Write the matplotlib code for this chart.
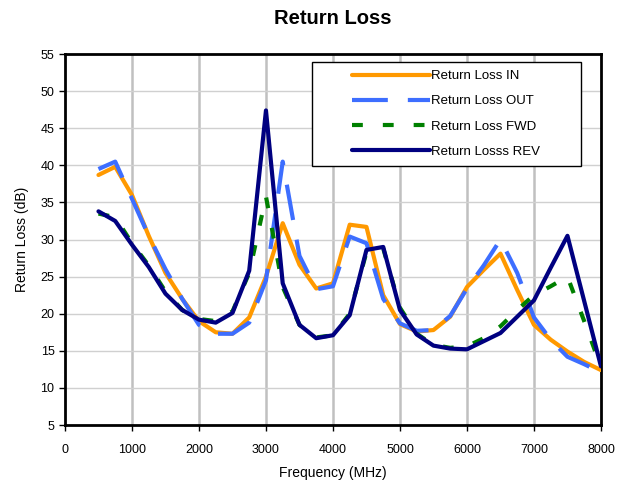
import numpy as np
import matplotlib
matplotlib.use("Agg")
import matplotlib.pyplot as plt
from matplotlib.patches import Rectangle

plt.rcParams['font.family'] = ['Liberation Sans', 'DejaVu Sans']

# frequency points (MHz)
freq = list(range(500, 8001, 250))

rl_in = [38.7, 39.8, 36.0, 30.5, 25.5, 22.0, 19.0, 17.5, 17.3, 19.5, 25.0, 32.2,
         26.6, 23.4, 24.1, 32.0, 31.7, 22.5, 18.6, 17.6, 17.8, 19.6, 23.6, 25.9,
         28.1, 23.2, 18.5, 16.5, 14.9, 13.5, 12.4]
rl_out = [39.5, 40.5, 35.5, 30.5, 26.0, 22.0, 18.5, 17.3, 17.3, 18.8, 24.5, 40.5,
          27.8, 23.3, 23.7, 30.4, 29.5, 22.0, 18.7, 17.7, 17.8, 19.7, 23.4, 26.5,
          30.0, 25.5, 19.5, 16.5, 14.2, 13.2, 12.1]
rl_fwd = [33.5, 33.0, 29.5, 26.5, 23.0, 20.5, 19.3, 19.0, 20.3, 25.5, 35.8, 23.6,
          18.5, 16.8, 17.1, 20.0, 28.3, 28.8, 20.8, 17.3, 15.8, 15.4, 15.6, 16.7,
          18.3, 20.5, 22.5, 23.7, 25.0, 19.0, 12.8]
rl_rev = [33.8, 32.5, 29.3, 26.3, 22.7, 20.5, 19.2, 18.8, 20.1, 25.8, 47.4, 24.1,
          18.5, 16.7, 17.1, 19.8, 28.6, 29.0, 20.5, 17.2, 15.7, 15.3, 15.2, 16.3,
          17.4, 19.6, 21.8, 26.2, 30.5, 21.7, 12.9]

fig = plt.figure(figsize=(6.17, 4.87), dpi=100)
ax = fig.add_axes([0.1053, 0.1273, 0.8687, 0.7617])

ax.plot(freq, rl_in, color='#FF9900', lw=3, solid_capstyle='round', label='Return Loss IN', zorder=3)
ax.plot(freq, rl_out, color='#3D6EFF', lw=3, dashes=(8.6, 4.8), label='Return Loss OUT', zorder=4)
ax.plot(freq, rl_fwd, color='#008000', lw=3, dashes=(2.6, 4.8), label='Return Loss FWD', zorder=5)
ax.plot(freq, rl_rev, color='#000080', lw=3, solid_capstyle='round', label='Return Losss REV', zorder=6)

ax.set_xlim(0, 8000)
ax.set_ylim(5, 55)
ax.set_xticks(range(0, 8001, 1000))
ax.set_yticks(range(5, 56, 5))

for x in range(1000, 8000, 1000):
    ax.axvline(x, color='#c0c0c0', lw=1.8, zorder=1)
for y in range(10, 55, 5):
    ax.axhline(y, color='#d0d0d0', lw=1.0, zorder=1)

for s in ax.spines.values():
    s.set_linewidth(2)
    s.set_color('black')

ax.tick_params(direction='out', length=4, width=1, labelsize=9, colors='black')
ax.tick_params(axis='x', pad=10)
ax.set_xlabel('Frequency (MHz)', fontsize=10, labelpad=7)
ax.set_ylabel('Return Loss (dB)', fontsize=10, labelpad=8)
ax.set_title('Return Loss', fontsize=14.5, fontweight='bold', pad=22)

# legend box drawn separately so the padding can match the original
ax.add_patch(Rectangle((0.4608, 0.698), 0.5019, 0.28, transform=ax.transAxes,
                       facecolor='white', edgecolor='black', lw=1, zorder=7))
leg = ax.legend(loc='upper left', bbox_to_anchor=(0.5354, 0.957), fontsize=9.5,
                handlelength=5.9, handletextpad=0.1, borderpad=0, labelspacing=0.98,
                frameon=False, borderaxespad=0)
leg.set_zorder(8)

fig.savefig('out.png', dpi=100)
